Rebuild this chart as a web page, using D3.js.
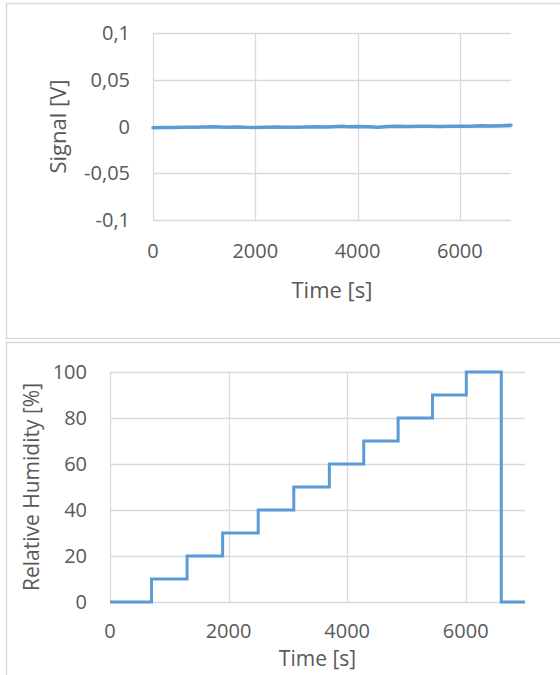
<!DOCTYPE html>
<html>
<head>
<meta charset="utf-8">
<script src="https://cdn.jsdelivr.net/npm/d3@7"></script>
<style>
  html, body { margin: 0; padding: 0; background: #fff; }
  svg { display: block; }
  text { font-family: "Open Sans", "Segoe UI", sans-serif; fill: #595959; }
</style>
</head>
<body>
<svg id="chart" width="560" height="675"></svg>
<script>
// ---- Data ----
const signalTime = [0, 200, 400, 600, 800, 1000, 1200, 1400, 1600, 1800, 2000, 2200, 2400, 2600, 2800, 3000, 3200, 3400, 3600, 3700, 3800, 4000, 4200, 4400, 4600, 4800, 5000, 5200, 5400, 5600, 5800, 6000, 6200, 6400, 6600, 6800, 7000];
const signalValue = [-0.0013, -0.0011, -0.0012, -0.0009, -0.0008, -0.0006, -0.0004, -0.0007, -0.0005, -0.0009, -0.0010, -0.0008, -0.0006, -0.0009, -0.0007, -0.0005, -0.0004, -0.0006, -0.0001, 0.0002, -0.0002, 0.0001, -0.0003, -0.0007, 0.0001, 0.0003, 0.0001, 0.0004, 0.0002, 0.0000, 0.0003, 0.0004, 0.0002, 0.0007, 0.0005, 0.0009, 0.0014];

const rhStepTime = [0, 700, 1300, 1900, 2500, 3100, 3700, 4280, 4860, 5440, 6010, 6600, 7000];
const rhStepValue = [0, 10, 20, 30, 40, 50, 60, 70, 80, 90, 100, 0, 0];

const topXTicks = [0, 2000, 4000, 6000];
const topYTicks = [-0.1, -0.05, 0, 0.05, 0.1];
const topYTickLabels = ["-0,1", "-0,05", "0", "0,05", "0,1"];
const botXTicks = [0, 2000, 4000, 6000];
const botYTicks = [0, 20, 40, 60, 80, 100];

const xTitle = "Time [s]";
const topYTitle = "Signal [V]";
const botYTitle = "Relative Humidity [%]";

// ---- Drawing ----
const svg = d3.select("#chart");
const gridColor = "#d9d9d9";
const lineColor = "#5b9bd5";
const fontSize = 20;

svg.append("rect").attr("x", 6.5).attr("y", 3.5).attr("width", 560).attr("height", 335)
  .attr("fill", "none").attr("stroke", gridColor).attr("stroke-width", 1.5);
svg.append("rect").attr("x", 6.5).attr("y", 342.5).attr("width", 560).attr("height", 340)
  .attr("fill", "none").attr("stroke", gridColor).attr("stroke-width", 1.5);

function panel(cfg) {
  const g = svg.append("g");
  const x = d3.scaleLinear().domain([0, 7000]).range([cfg.left, cfg.right]);
  const y = d3.scaleLinear().domain(cfg.yDomain).range([cfg.bottom, cfg.top]);

  g.selectAll(".hg").data(cfg.yTicks).enter().append("line")
    .attr("x1", cfg.left).attr("x2", cfg.right)
    .attr("y1", d => Math.round(y(d)) + 0.5).attr("y2", d => Math.round(y(d)) + 0.5)
    .attr("stroke", gridColor).attr("stroke-width", 1.3);
  g.selectAll(".vg").data(cfg.xTicks).enter().append("line")
    .attr("x1", d => Math.round(x(d)) + 0.5).attr("x2", d => Math.round(x(d)) + 0.5)
    .attr("y1", cfg.top).attr("y2", cfg.bottom)
    .attr("stroke", gridColor).attr("stroke-width", 1.3);

  g.selectAll(".yl").data(cfg.yTicks).enter().append("text")
    .attr("x", cfg.left - cfg.yLabelGap).attr("y", d => y(d))
    .attr("dy", "0.35em").attr("text-anchor", "end")
    .style("font-size", fontSize + "px")
    .text((d, i) => cfg.yTickLabels ? cfg.yTickLabels[i] : d);
  g.selectAll(".xl").data(cfg.xTicks).enter().append("text")
    .attr("x", d => x(d)).attr("y", cfg.xLabelY)
    .attr("dy", "0.35em").attr("text-anchor", "middle")
    .style("font-size", fontSize + "px")
    .text(d => d);
  g.append("text").attr("x", (cfg.left + cfg.right) / 2).attr("y", cfg.xTitleY)
    .attr("dy", "0.35em").attr("text-anchor", "middle")
    .style("font-size", cfg.titleSize + "px").text(xTitle);
  g.append("text")
    .attr("transform", `translate(${cfg.yTitleX},${(cfg.top + cfg.bottom) / 2}) rotate(-90)`)
    .attr("dy", "0.35em").attr("text-anchor", "middle")
    .style("font-size", cfg.titleSize + "px").text(cfg.yTitle);

  return { g, x, y };
}

const p1 = panel({
  left: 153, right: 511, top: 33, bottom: 220,
  yDomain: [-0.1, 0.1], xTicks: topXTicks, yTicks: topYTicks, yTickLabels: topYTickLabels,
  yLabelGap: 23, xLabelY: 251, xTitleY: 290, yTitleX: 58, yTitle: topYTitle, titleSize: 22
});
const signalData = signalTime.map((t, i) => [t, signalValue[i]]);
p1.g.append("path").datum(signalData)
  .attr("fill", "none").attr("stroke", lineColor).attr("stroke-width", 3.5)
  .attr("stroke-linejoin", "round").attr("stroke-linecap", "round")
  .attr("d", d3.line().x(d => p1.x(d[0])).y(d => p1.y(d[1])));

const p2 = panel({
  left: 110, right: 525, top: 372, bottom: 602,
  yDomain: [0, 100], xTicks: botXTicks, yTicks: botYTicks,
  yLabelGap: 23, xLabelY: 631, xTitleY: 659, yTitleX: 32, yTitle: botYTitle, titleSize: 21
});
const rhData = rhStepTime.map((t, i) => [t, rhStepValue[i]]);
p2.g.append("path").datum(rhData)
  .attr("fill", "none").attr("stroke", lineColor).attr("stroke-width", 3)
  .attr("d", d3.line().x(d => p2.x(d[0])).y(d => p2.y(d[1])).curve(d3.curveStepAfter));
</script>
</body>
</html>
